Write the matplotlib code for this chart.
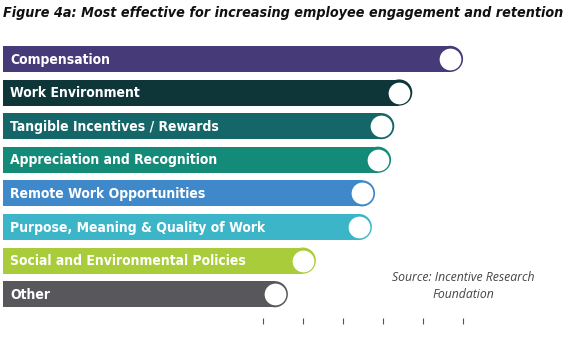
import matplotlib
matplotlib.use("Agg")
import matplotlib.pyplot as plt
import numpy as np

categories = [
    "Compensation",
    "Work Environment",
    "Tangible Incentives / Rewards",
    "Appreciation and Recognition",
    "Remote Work Opportunities",
    "Purpose, Meaning & Quality of Work",
    "Social and Environmental Policies",
    "Other",
]
values = [115, 102.3, 97.8, 97.0, 93.0, 92.2, 78.2, 71.2]
colors = ["#463a78", "#0e3538", "#156669", "#148a78", "#3f88ca",
          "#3cb5c8", "#a8cc3a", "#58575c"]
tick_pos = [65, 75, 85, 95, 105, 115]

title = "Figure 4a: Most effective for increasing employee engagement and retention"
source = "Source: Incentive Research\nFoundation"

fig = plt.figure(figsize=(5.72, 3.37), dpi=100)
ax = fig.add_axes([3 / 572, 15.9 / 337, 560 / 572, 279 / 337])

px = 0.25            # data units per pixel along x
r = 13 * px          # end-cap radius
ypos = np.arange(len(categories))
bar_h = 26 / 33.6

ax.barh(ypos, [v - r for v in values], height=bar_h, color=colors, zorder=2)
ax.scatter([v - r for v in values], ypos, s=355, c=colors, zorder=3,
           linewidths=0)
ax.scatter([v - r for v in values], ypos, s=245, c="white", zorder=4,
           linewidths=0)

for y, name in zip(ypos, categories):
    ax.text(1.8, y + 0.02, name, color="white", fontsize=10,
            fontweight="bold", fontstretch="condensed", family="DejaVu Sans",
            va="center", ha="left", zorder=5)

ax.set_xlim(0, 140)
ax.set_ylim(7.8, -0.5)
ax.set_xticks(tick_pos)
ax.set_xticklabels([])
ax.set_yticks([])
ax.tick_params(axis="x", length=4, width=0.8, color="#555555", direction="inout")
for s in ax.spines.values():
    s.set_visible(False)

t = fig.text(3 / 572, 1 - 13 / 337, title, fontsize=12, fontweight="bold",
             style="italic", fontstretch="condensed", family="DejaVu Sans",
             va="center", ha="left", color="#111111")
# shrink the title to the width it takes in the reference (~560 px)
fig.canvas.draw()
w = t.get_window_extent().width
t.set_fontsize(12 * min(1.0, 560 / w))

fig.text(463 / 572, 1 - 286 / 337, source, fontsize=8.8, style="italic",
         family=["Open Sans", "DejaVu Sans"], ha="center", va="center",
         color="#444444", linespacing=1.45)

fig.savefig("out.png", dpi=100)
